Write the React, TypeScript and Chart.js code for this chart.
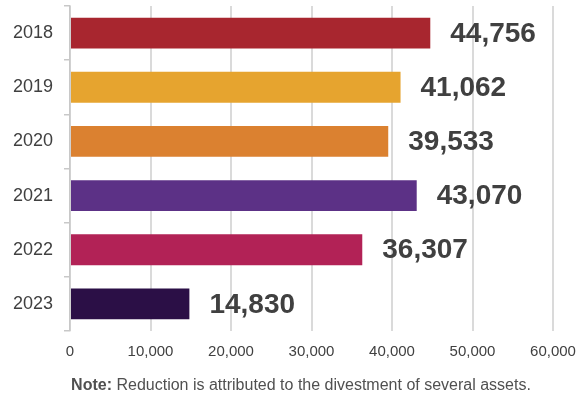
import React, { useEffect, useRef } from "react";
import { Chart, registerables } from "chart.js";

Chart.register(...registerables);

const categories = ["2018", "2019", "2020", "2021", "2022", "2023"];
const values = [44756, 41062, 39533, 43070, 36307, 14830];
const barColors = ["#A8262F", "#E6A42F", "#DB8130", "#5C3186", "#B22256", "#2B0F46"];
const xTicks = [0, 10000, 20000, 30000, 40000, 50000, 60000];
const noteBold = "Note:";
const noteText = " Reduction is attributed to the divestment of several assets.";

const FONT = "'Liberation Sans', Arial, sans-serif";

export default function App() {
  const ref = useRef<HTMLCanvasElement | null>(null);

  useEffect(() => {
    if (!ref.current) return;
    const labelPlugin = {
      id: "barLabels",
      afterDatasetsDraw(chart: any) {
        const ctx = chart.ctx;
        const meta = chart.getDatasetMeta(0);
        ctx.save();
        ctx.font = `bold 28px ${FONT}`;
        ctx.fillStyle = "#404040";
        ctx.textAlign = "left";
        ctx.textBaseline = "middle";
        meta.data.forEach((bar: any, i: number) => {
          ctx.fillText(values[i].toLocaleString("en-US"), bar.x + 20, bar.y + 1);
        });
        ctx.restore();
      },
    };
    const notePlugin = {
      id: "note",
      afterDraw(chart: any) {
        const ctx = chart.ctx;
        const size = 16;
        ctx.save();
        ctx.fillStyle = "#505050";
        ctx.textBaseline = "middle";
        ctx.font = `bold ${size}px ${FONT}`;
        const w1 = ctx.measureText(noteBold).width;
        ctx.font = `${size}px ${FONT}`;
        const w2 = ctx.measureText(noteText).width;
        const total = w1 + w2;
        const x0 = 301 - total / 2;
        ctx.font = `bold ${size}px ${FONT}`;
        ctx.fillText(noteBold, x0, 386);
        ctx.font = `${size}px ${FONT}`;
        ctx.fillText(noteText, x0 + w1, 386);
        ctx.restore();
      },
    };
    const chart = new Chart(ref.current, {
      type: "bar",
      data: {
        labels: categories,
        datasets: [
          {
            data: values,
            backgroundColor: barColors,
            borderWidth: 0,
            barPercentage: 0.57,
            categoryPercentage: 1,
          },
        ],
      },
      options: {
        indexAxis: "y",
        animation: false,
        responsive: false,
        maintainAspectRatio: false,
        layout: { padding: { top: 6, right: 34, left: 0, bottom: 0 } },
        plugins: {
          legend: { display: false },
          tooltip: { enabled: false },
        },
        scales: {
          x: {
            min: 0,
            max: 60000,
            afterBuildTicks: (s: any) => {
              s.ticks = xTicks.map((v) => ({ value: v }));
            },
            afterFit: (s: any) => {
              s.height = 67;
              s.paddingLeft = 0;
              s.paddingRight = 0;
            },
            grid: {
              color: "#DADADA",
              lineWidth: 2,
              drawTicks: false,
            },
            border: { display: false },
            ticks: {
              padding: 12,
              color: "#404040",
              font: { family: FONT, size: 15 },
              callback: (v: any) => Number(v).toLocaleString("en-US"),
            },
          },
          y: {
            afterFit: (s: any) => {
              s.width = 70;
              s.paddingTop = 0;
              s.paddingBottom = 0;
            },
            grid: {
              drawOnChartArea: false,
              color: "#C8C8C8",
              tickLength: 6,
              lineWidth: 1.5,
              offset: true,
            },
            border: { display: true, color: "#C8C8C8", width: 1.5 },
            ticks: {
              padding: 11,
              color: "#404040",
              font: { family: FONT, size: 18 },
            },
          },
        },
      },
      plugins: [labelPlugin, notePlugin],
    } as any);
    return () => chart.destroy();
  }, []);

  return (
    <div style={{ position: "fixed", left: 0, top: 0, width: 587, height: 398, background: "#fff" }}>
      <canvas ref={ref} width={587} height={398} style={{ width: 587, height: 398, display: "block" }} />
    </div>
  );
}
